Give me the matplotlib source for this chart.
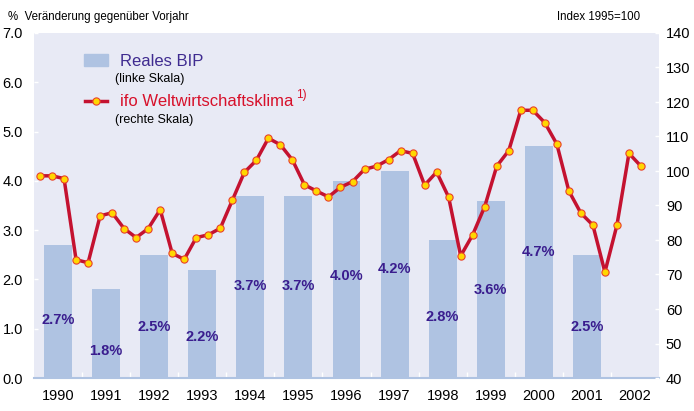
import numpy as np
import matplotlib.pyplot as plt
from matplotlib.patches import Rectangle
from matplotlib.lines import Line2D

plt.rcParams['font.family'] = ['Liberation Sans', 'DejaVu Sans']

# Real GDP growth (% vs. previous year), left scale
years = [1990, 1991, 1992, 1993, 1994, 1995, 1996, 1997, 1998, 1999, 2000, 2001]
gdp = [2.7, 1.8, 2.5, 2.2, 3.7, 3.7, 4.0, 4.2, 2.8, 3.6, 4.7, 2.5]
gdp_labels = ['2.7%', '1.8%', '2.5%', '2.2%', '3.7%', '3.7%', '4.0%', '4.2%',
              '2.8%', '3.6%', '4.7%', '2.5%']

# ifo world economic climate, quarterly 1990Q1 - 2002Q3, right scale (1995=100)
ifo = [98.6, 98.6, 97.8, 74.3,
       73.4, 87.0, 87.9, 83.3,
       80.7, 83.3, 88.8, 76.1,
       74.4, 80.7, 81.5, 83.4,
       91.5, 99.6, 103.1, 109.5,
       107.6, 103.2, 96.0, 94.2,
       92.5, 95.3, 96.9, 100.5,
       101.4, 103.3, 105.9, 105.1,
       95.9, 99.7, 92.4, 75.4,
       81.5, 89.7, 101.4, 105.9,
       117.6, 117.6, 114.0, 107.8,
       94.2, 87.8, 84.3, 70.7,
       84.3, 105.1, 101.4]

year_ticks = list(range(1990, 2003))

BAR_COL = '#AFC3E2'
BG_COL = '#E8EAF5'
LINE_COL = '#C41230'
LABEL_COL = '#3A1D8E'

W, H = 694, 411
fig = plt.figure(figsize=(W / 100, H / 100), dpi=100)
ax = fig.add_axes([34 / W, 33 / H, 625 / W, 345 / H])
ax.set_facecolor(BG_COL)

# bars
ax.bar(years, gdp, width=0.58, color=BAR_COL, zorder=2)
for x, v, s in zip(years, gdp, gdp_labels):
    ax.text(x, 0.69 * (v - 1), s, ha='center', va='center', fontsize=10.5,
            fontweight='bold', color=LABEL_COL, zorder=5)

ax.set_xlim(1989.5, 2002.5)
ax.set_ylim(0, 7)
ax.set_yticks(np.arange(0, 7.1, 1))
ax.set_yticklabels(['%.1f' % v for v in np.arange(0, 7.1, 1)])
ax.set_xticks(year_ticks)
ax.set_xticklabels([str(y) for y in year_ticks])
ax.set_xticks([y + 0.5 for y in year_ticks[:-1]], minor=True)
ax.tick_params(axis='x', which='major', length=0, pad=8, labelsize=10.5)
ax.tick_params(axis='x', which='minor', direction='in', length=4, width=1, color='white')
ax.tick_params(axis='y', direction='in', length=3, width=1, color='white', pad=8,
               labelsize=10.5)
for s in ['top', 'right', 'left']:
    ax.spines[s].set_visible(False)
ax.spines['bottom'].set_color(BAR_COL)
ax.spines['bottom'].set_linewidth(1.5)
ax.spines['bottom'].set_zorder(3)

# line on the right scale
ax2 = ax.twinx()
xq = [1990 - 0.375 + 0.25 * i for i in range(len(ifo))]
ax2.plot(xq, ifo, color=LINE_COL, lw=2.5, marker='o', ms=5.2,
         mfc='#FFD700', mec='#E8402A', mew=0.8, zorder=4)
ax2.set_ylim(40, 140)
ax2.set_yticks(range(40, 141, 10))
ax2.tick_params(axis='y', direction='in', length=3, width=1, color='white', pad=5,
                labelsize=10.5)
for s in ['top', 'right', 'left', 'bottom']:
    ax2.spines[s].set_visible(False)

# header texts
fig.text(8 / W, 1 - 17 / H, '%  Veränderung gegenüber Vorjahr', fontsize=8.3,
         ha='left', va='center')
fig.text(640 / W, 1 - 17 / H, 'Index 1995=100', fontsize=8.3, ha='right', va='center')

# legend
fig.patches.append(Rectangle((84 / W, 1 - 66 / H), 24 / W, 12 / H,
                             transform=fig.transFigure, color=BAR_COL))
fig.text(120 / W, 1 - 62 / H, 'Reales BIP', fontsize=12, color='#3F2B90', va='center')
fig.text(115 / W, 1 - 79 / H, '(linke Skala)', fontsize=9, va='center')
fig.lines.append(Line2D([85 / W, 107 / W], [1 - 101 / H, 1 - 101 / H],
                        transform=fig.transFigure, color=LINE_COL, lw=2.5))
fig.lines.append(Line2D([96 / W], [1 - 101 / H], transform=fig.transFigure,
                        marker='o', ms=5.2, mfc='#FFD700', mec='#E8402A', mew=0.8))
fig.text(120 / W, 1 - 101 / H, 'ifo Weltwirtschaftsklima', fontsize=12,
         color='#D7102A', va='center')
fig.text(296 / W, 1 - 95 / H, '1)', fontsize=8.5, color='#D7102A', va='center')
fig.text(115 / W, 1 - 120 / H, '(rechte Skala)', fontsize=9, va='center')

fig.savefig('out.png', dpi=100)
